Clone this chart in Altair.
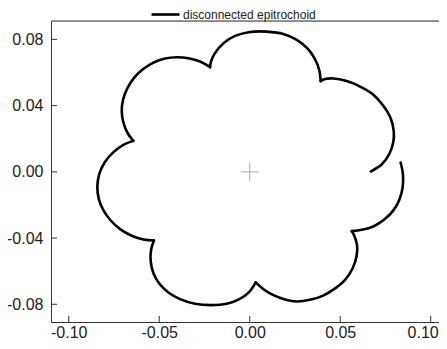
import altair as alt
import pandas as pd

# ---- data (data units) ----
series_name = "disconnected epitrochoid"

# lobes in drawing order (counter-clockwise, starting at the inner end point)
upper_right_x = [0.0669, 0.0729, 0.0772, 0.0794, 0.0796, 0.0779, 0.0738, 0.0680, 0.0610, 0.0536, 0.0462, 0.0416, 0.0392]
upper_right_y = [0.0002, 0.0044, 0.0109, 0.0183, 0.0244, 0.0324, 0.0399, 0.0469, 0.0515, 0.0548, 0.0564, 0.0560, 0.0548]

top_x = [0.0392, 0.0385, 0.0361, 0.0319, 0.0260, 0.0186, 0.0094, 0.0002, -0.0081, -0.0145, -0.0192, -0.0214, -0.0219]
top_y = [0.0548, 0.0612, 0.0680, 0.0745, 0.0797, 0.0833, 0.0847, 0.0845, 0.0821, 0.0777, 0.0717, 0.0666, 0.0632]

upper_left_x = [-0.0219, -0.0274, -0.0339, -0.0403, -0.0468, -0.0532, -0.0587, -0.0637, -0.0676, -0.0700, -0.0707, -0.0698, -0.0674, -0.0643]
upper_left_y = [0.0632, 0.0666, 0.0686, 0.0692, 0.0684, 0.0660, 0.0622, 0.0570, 0.0505, 0.0435, 0.0364, 0.0298, 0.0233, 0.0187]

left_x = [-0.0643, -0.0698, -0.0753, -0.0801, -0.0831, -0.0842, -0.0834, -0.0808, -0.0768, -0.0716, -0.0652, -0.0587, -0.0529]
left_y = [0.0187, 0.0163, 0.0119, 0.0058, -0.0012, -0.0089, -0.0163, -0.0233, -0.0294, -0.0346, -0.0386, -0.0409, -0.0415]

lower_left_x = [-0.0529, -0.0545, -0.0547, -0.0532, -0.0499, -0.0449, -0.0385, -0.0302, -0.0215, -0.0127, -0.0057, -0.0002, 0.0033]
lower_left_y = [-0.0415, -0.0471, -0.0541, -0.0612, -0.0676, -0.0729, -0.0769, -0.0797, -0.0805, -0.0797, -0.0769, -0.0725, -0.0668]

lower_right_x = [0.0033, 0.0076, 0.0131, 0.0195, 0.0260, 0.0333, 0.0403, 0.0468, 0.0527, 0.0569, 0.0591, 0.0593, 0.0578, 0.0564]
lower_right_y = [-0.0668, -0.0709, -0.0745, -0.0771, -0.0783, -0.0773, -0.0749, -0.0707, -0.0652, -0.0582, -0.0507, -0.0441, -0.0386, -0.0358]

right_x = [0.0564, 0.0619, 0.0683, 0.0742, 0.0794, 0.0827, 0.0845, 0.0847, 0.0834]
right_y = [-0.0358, -0.0350, -0.0330, -0.0290, -0.0233, -0.0169, -0.0095, -0.0018, 0.0056]

center_x = [0.0]
center_y = [0.0]

x_ticks = [-0.10, -0.05, 0.00, 0.05, 0.10]
y_ticks = [-0.08, -0.04, 0.00, 0.04, 0.08]
x_domain = [-0.1098, 0.1046]
y_domain = [-0.0907, 0.0911]

lobes = [
    ("upper_right", upper_right_x, upper_right_y),
    ("top", top_x, top_y),
    ("upper_left", upper_left_x, upper_left_y),
    ("left", left_x, left_y),
    ("lower_left", lower_left_x, lower_left_y),
    ("lower_right", lower_right_x, lower_right_y),
    ("right", right_x, right_y),
]

rows = []
k = 0
for name, xs, ys in lobes:
    for xv, yv in zip(xs, ys):
        rows.append({"seg": name, "i": k, "x": xv, "y": yv, "series": series_name})
        k += 1
curve_df = pd.DataFrame(rows)
center_df = pd.DataFrame({"x": center_x, "y": center_y})
xt_df = pd.DataFrame({"v": x_ticks})
yt_df = pd.DataFrame({"v": y_ticks})

W, H = 388, 301
FONT = "Liberation Sans"
minus_fix = "replace(format(datum.value, '.2f'), '\u2212', '-')"

x_scale = alt.Scale(domain=x_domain, nice=False, zero=False)
y_scale = alt.Scale(domain=y_domain, nice=False, zero=False)

x_axis = alt.Axis(values=x_ticks, labelExpr=minus_fix, title=None, grid=False,
                  ticks=False, tickSize=0, labelPadding=2, labelFontSize=16,
                  labelFont=FONT, labelColor="#222222", domainColor="#333333",
                  domainWidth=1, labelFlush=False, labelOverlap=False,
                  labelOffset={"condition": {"test": "datum.value > 0.09", "value": -8}, "value": 0})
y_axis = alt.Axis(values=y_ticks, labelExpr=minus_fix, title=None, grid=False,
                  ticks=False, tickSize=0, labelPadding=8, labelFontSize=16,
                  labelFont=FONT, labelColor="#222222", domainColor="#333333",
                  domainWidth=1, labelFlush=False, labelOverlap=False)

curve = alt.Chart(curve_df).mark_line(
    strokeWidth=2.6, interpolate="catmull-rom", strokeJoin="round", strokeCap="round"
).encode(
    x=alt.X("x:Q", scale=x_scale, axis=x_axis),
    y=alt.Y("y:Q", scale=y_scale, axis=y_axis),
    detail="seg:N",
    order=alt.Order("i:Q"),
    color=alt.Color("series:N",
                    scale=alt.Scale(domain=[series_name], range=["#000000"]),
                    legend=alt.Legend(title=None, orient="none", legendX=99, legendY=-22,
                                      symbolType="stroke", symbolSize=784,
                                      symbolStrokeWidth=2.6, labelFontSize=12,
                                      labelFont=FONT, labelColor="#222222",
                                      labelOffset=2, padding=0)),
)

center = alt.Chart(center_df).mark_point(
    shape="M-1,0H1M0,-1V1", size=324, filled=False, stroke="#888888", strokeWidth=1
).encode(x=alt.X("x:Q", scale=x_scale), y=alt.Y("y:Q", scale=y_scale))

xtick_rules = alt.Chart(xt_df).mark_rule(color="#333333", strokeWidth=1).encode(
    x=alt.X("v:Q", scale=x_scale), y=alt.value(H), y2=alt.value(H - 6))
ytick_rules = alt.Chart(yt_df).mark_rule(color="#333333", strokeWidth=1).encode(
    y=alt.Y("v:Q", scale=y_scale), x=alt.value(0), x2=alt.value(6))

top_border = alt.Chart(center_df).mark_rule(color="#333333", strokeWidth=1).encode(
    x=alt.value(0), x2=alt.value(W), y=alt.value(0))

chart = alt.layer(top_border, xtick_rules, ytick_rules, center, curve).properties(
    width=W, height=H,
    autosize=alt.AutoSizeParams(type="none"),
    padding={"left": 43, "top": 13, "right": 0, "bottom": 19},
).configure_view(stroke=None).configure(background="white")

chart.save("out.html", embed_options={"renderer": "svg", "actions": False})
